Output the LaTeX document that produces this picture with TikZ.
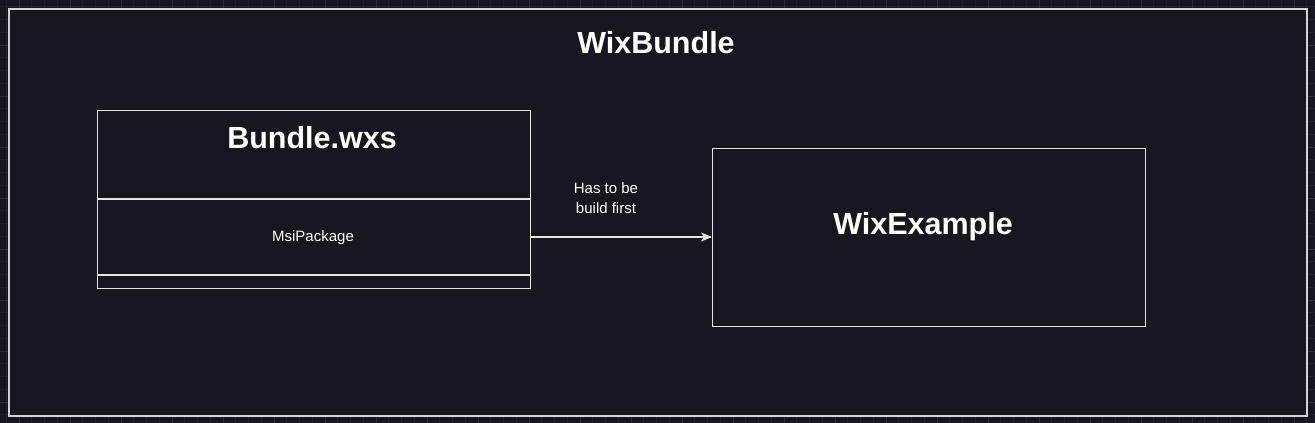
\documentclass[tikz,border=0pt]{standalone}
\usepackage{fontspec}
\setmainfont{Liberation Sans}
\usetikzlibrary{arrows.meta}
\definecolor{bgc}{HTML}{18161F}
\definecolor{gridminor}{HTML}{222028}
\definecolor{gridmajor}{HTML}{302E36}
\definecolor{linec}{HTML}{E6E6E6}
\definecolor{outerc}{HTML}{D4D4D4}
\tikzset{
  boxline/.style={draw=linec, line width=1.2pt},
  bigtitle/.style={text=white, font=\fontsize{30.5}{36}\selectfont\bfseries},
  smalltext/.style={text=white, font=\fontsize{15}{20}\selectfont, align=center},
}
\begin{document}
\begin{tikzpicture}[x=1pt,y=-1pt]
\useasboundingbox (0,0) rectangle (1315,423);
\fill[bgc] (0,0) rectangle (1315,423);
% grid
\foreach \i in {0,...,103} {
  \draw[gridminor, line width=0.8pt] ({6.25+12.75*\i},0) -- ({6.25+12.75*\i},423);
}
\foreach \i in {0,...,33} {
  \draw[gridminor, line width=0.8pt] (0,{6.75+12.75*\i}) -- (1315,{6.75+12.75*\i});
}
\foreach \i in {0,...,25} {
  \draw[gridmajor, line width=0.8pt] ({19+51*\i},0) -- ({19+51*\i},423);
}
\foreach \i in {0,...,8} {
  \draw[gridmajor, line width=0.8pt] (0,{45+51*\i}) -- (1315,{45+51*\i});
}
% outer container
\node[draw=outerc, line width=1.6pt, fill=bgc, minimum width=1298pt, minimum height=407pt, inner sep=0pt, anchor=north west] (outer) at (8,8) {};
\node[bigtitle, anchor=center] (title) at (656,43) {WixBundle};
% Bundle.wxs box
\node[boxline, minimum width=433pt, minimum height=178pt, inner sep=0pt, anchor=north west] (bundle) at (97,110) {};
\node[bigtitle] (bundletitle) at (312,138) {Bundle.wxs};
\coordinate (d1l) at (97,199);
\coordinate (d1r) at (530,199);
\coordinate (d2l) at (97,275);
\coordinate (d2r) at (530,275);
\draw[boxline] (d1l) -- (d1r);
\draw[boxline] (d2l) -- (d2r);
\node[smalltext] (msi) at (313,238) {MsiPackage};
\coordinate (msiright) at (530,237);
% WixExample box
\node[boxline, minimum width=433pt, minimum height=178pt, inner sep=0pt, anchor=north west] (example) at (712,148) {};
\node[bigtitle] (exampletitle) at (923,227) {WixExample};
\coordinate (exleft) at (712,237);
% arrow
\draw[linec, line width=1.2pt, -{Stealth[length=11pt,width=9pt,inset=3pt]}] (msiright) -- (exleft);
\node[smalltext] (label) at (606,198) {Has to be\\build first};
\end{tikzpicture}
\end{document}
